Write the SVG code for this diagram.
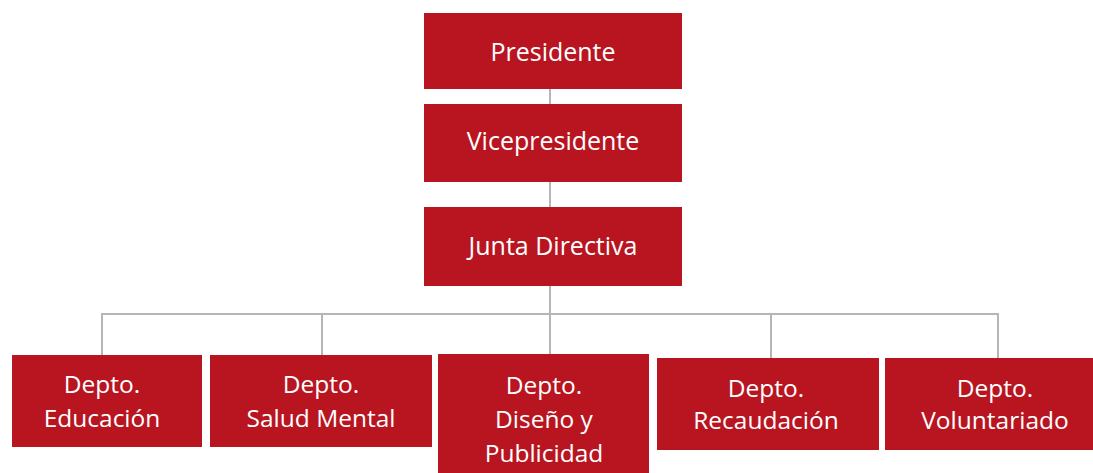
<svg xmlns="http://www.w3.org/2000/svg" width="1093" height="473" viewBox="0 0 1093 473">
<style>
.box{fill:#B81521}
.t{fill:#FFFFFF;font-family:"Open Sans","Noto Sans",sans-serif;font-size:24.5px;text-anchor:middle}
.h{font-size:25px}
.ln{stroke:#B5B5B5;stroke-width:2;fill:none}
</style>
<rect width="1093" height="473" fill="#FFFFFF"/>
<g id="connectors">
<line class="ln" x1="550" y1="89" x2="550" y2="104"/>
<line class="ln" x1="550" y1="182" x2="550" y2="207"/>
<line class="ln" x1="550" y1="286" x2="550" y2="355"/>
<polyline class="ln" points="102,355 102,314 998,314 998,358"/>
<line class="ln" x1="322" y1="314" x2="322" y2="355"/>
<line class="ln" x1="771" y1="314" x2="771" y2="358"/>
</g>
<g id="presidente"><rect class="box" x="424" y="13" width="258" height="76"/><text class="t h" x="553" y="61">Presidente</text></g>
<g id="vicepresidente"><rect class="box" x="424" y="104" width="258" height="78"/><text class="t h" x="553" y="150">Vicepresidente</text></g>
<g id="junta"><rect class="box" x="424" y="207" width="258" height="79"/><text class="t h" x="553" y="255">Junta Directiva</text></g>
<g id="educacion"><rect class="box" x="12" y="355" width="190" height="92"/><text class="t" x="102" y="393">Depto.</text><text class="t" x="102" y="427">Educación</text></g>
<g id="salud"><rect class="box" x="210" y="355" width="222" height="92"/><text class="t" x="321" y="393">Depto.</text><text class="t" x="321" y="427">Salud Mental</text></g>
<g id="diseno"><rect class="box" x="438" y="354" width="211" height="119"/><text class="t" x="544" y="394">Depto.</text><text class="t" x="544" y="428">Diseño y</text><text class="t" x="544" y="462">Publicidad</text></g>
<g id="recaudacion"><rect class="box" x="657" y="358" width="222" height="92"/><text class="t" x="766" y="397">Depto.</text><text class="t" x="766" y="429">Recaudación</text></g>
<g id="voluntariado"><rect class="box" x="885" y="358" width="208" height="92"/><text class="t" x="995" y="397">Depto.</text><text class="t" x="995" y="429">Voluntariado</text></g>
</svg>
